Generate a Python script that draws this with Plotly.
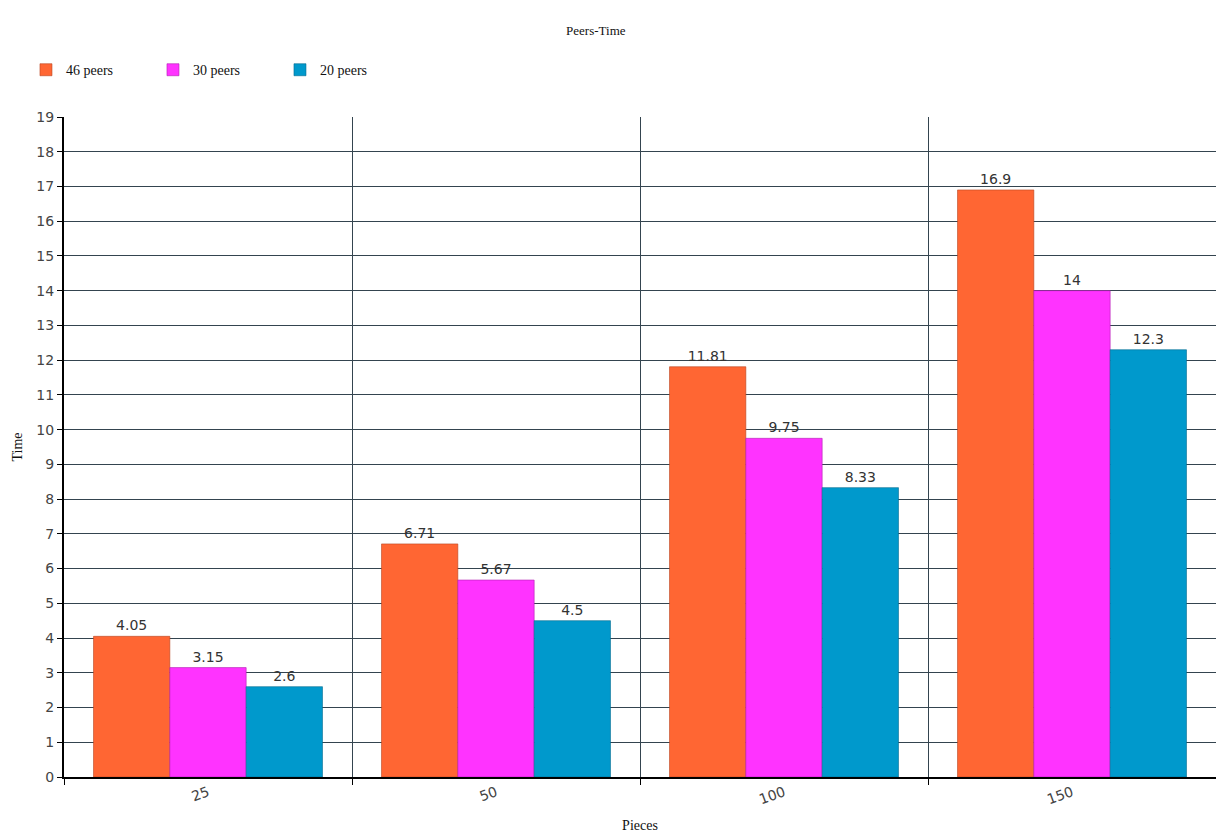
import plotly.graph_objects as go

# Pieces per file, and average completion time for each swarm size
pieces = ["25", "50", "100", "150"]
peers_46 = [4.05, 6.71, 11.81, 16.9]
peers_30 = [3.15, 5.67, 9.75, 14]
peers_20 = [2.6, 4.5, 8.33, 12.3]

series = [
    ("46 peers", peers_46, "#FF6633", "#B84420"),
    ("30 peers", peers_30, "#FF33FF", "#B020B0"),
    ("20 peers", peers_20, "#0099CC", "#006A8E"),
]

serif = "Liberation Serif, Times New Roman, serif"
sans = "DejaVu Sans, Verdana, sans-serif"

fig = go.Figure()
for name, vals, color, edge in series:
    fig.add_trace(go.Bar(
        name=name,
        x=pieces,
        y=vals,
        marker=dict(color=color, line=dict(color=edge, width=0.6)),
        text=[f"{v:g}" for v in vals],
        textposition="outside",
        cliponaxis=False,
        textfont=dict(family=sans, size=14, color="#333333"),
    ))

fig.update_layout(
    width=1216,
    height=833,
    paper_bgcolor="white",
    plot_bgcolor="white",
    barmode="group",
    bargap=0.205,
    bargroupgap=0,
    margin=dict(l=64, r=0, t=117, b=52),
    title=dict(text="Peers-Time", x=0.49, xanchor="center", y=0.964, yanchor="middle",
               font=dict(family=serif, size=13, color="#111111")),
    legend=dict(orientation="h", x=-0.033, xanchor="left", y=1.071, yanchor="middle",
                font=dict(family=serif, size=14, color="#111111"),
                entrywidth=82, entrywidthmode="pixels", itemwidth=30,
                traceorder="normal"),
    showlegend=True,
)

fig.update_xaxes(
    type="category",
    tickson="boundaries",
    showgrid=True,
    gridcolor="#34444f",
    gridwidth=1,
    showline=True,
    linecolor="#000000",
    linewidth=2,
    ticks="outside",
    ticklen=6,
    tickcolor="#000000",
    tickangle=-20,
    tickfont=dict(family=sans, size=14, color="#444444"),
    title=dict(text="Pieces", font=dict(family=serif, size=14, color="#111111"), standoff=16),
)

fig.update_yaxes(
    range=[0, 19],
    dtick=1,
    showgrid=True,
    gridcolor="#34444f",
    gridwidth=1,
    zeroline=False,
    showline=True,
    linecolor="#000000",
    linewidth=2,
    ticks="outside",
    ticklen=5,
    tickcolor="#000000",
    tickfont=dict(family=sans, size=14, color="#444444"),
    title=dict(text="Time", font=dict(family=serif, size=14, color="#111111"), standoff=10),
)

fig.write_html("out.html")
